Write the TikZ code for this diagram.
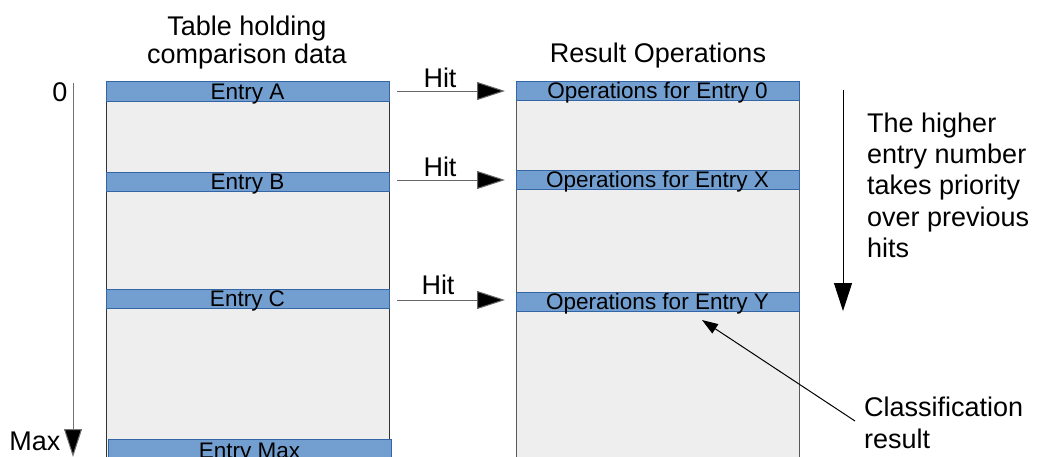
\documentclass[tikz,border=0pt]{standalone}
\usepackage{fontspec}
\setmainfont{Liberation Sans}
\usetikzlibrary{arrows.meta}
\definecolor{barfill}{HTML}{729FCF}
\definecolor{barline}{HTML}{3465A4}
\definecolor{tablefill}{HTML}{EEEEEE}
\tikzset{
  tbl/.style={draw=black!80, fill=tablefill, line width=1pt},
  bar/.style={draw=barline, fill=barfill, line width=1pt, inner sep=0pt, minimum width=283pt,
    text height=17.5pt, text depth=1.5pt, font=\fontsize{22.5}{26}\selectfont},
  lbl/.style={inner sep=0pt, font=\fontsize{27}{31.3}\selectfont},
  hit/.style={-{Triangle[length=28pt,width=18pt,fill=black]}, line width=1pt, draw=black!60},
  bigarrow/.style={-{Triangle[length=28pt,width=18pt]}, line width=1pt},
  smallarrow/.style={-{Triangle[length=16pt,width=11pt]}, line width=1pt},
}
\begin{document}
\begin{tikzpicture}[x=1pt,y=-1pt]
\useasboundingbox (0,0) rectangle (1043,456);
\clip (0,0) rectangle (1043,456);
% tables
\draw[tbl] (106,81) rectangle (389,480);
\draw[tbl, draw=black!65] (516,81) rectangle (799,480);
% left bars
\node[bar, minimum height=20pt] (entryA) at (247.5,91) {Entry A};
\node[bar, minimum height=19pt] (entryB) at (247.5,181.5) {Entry B};
\node[bar, minimum height=19pt] (entryC) at (247.5,298.5) {Entry C};
\node[bar, minimum height=31pt, text height=19.5pt, text depth=11.5pt] (entryMax) at (249.5,454.5) {Entry Max};
% right bars
\node[bar, minimum height=19pt] (op0) at (657.5,90.5) {Operations for Entry 0};
\node[bar, minimum height=19pt] (opX) at (657.5,179.5) {Operations for Entry X};
\node[bar, minimum height=19pt] (opY) at (657.5,301.5) {Operations for Entry Y};
% titles
\node[lbl, align=center, anchor=north, font=\fontsize{27}{28.5}\selectfont] (title1) at (247,15.5) {Table holding\\comparison data};
\node[lbl] (title2) at (658,56) {Result Operations};
% axis
\coordinate (axTop) at (73,83);
\coordinate (axBot) at (73,457);
\draw[hit, draw=black!55] (axTop) -- (axBot);
\node[lbl] (zero) at (60,92) {0};
\node[lbl] (max) at (35,441) {Max};
% hit arrows
\coordinate (hA1) at (397,91);  \coordinate (hA2) at (505,91);
\coordinate (hB1) at (397,180); \coordinate (hB2) at (505,180);
\coordinate (hC1) at (397,300); \coordinate (hC2) at (505,300);
\draw[hit] (hA1) -- (hA2);
\draw[hit] (hB1) -- (hB2);
\draw[hit] (hC1) -- (hC2);
\node[lbl] (hitA) at (440,78) {Hit};
\node[lbl] (hitB) at (440,167) {Hit};
\node[lbl] (hitC) at (438,285) {Hit};
% priority arrow
\coordinate (pTop) at (843,90);
\coordinate (pBot) at (843,311);
\draw[bigarrow] (pTop) -- (pBot);
\node[lbl, anchor=north west, align=left] (prio) at (867,112.5) {The higher\\entry number\\takes priority\\over previous\\hits};
% classification
\node[lbl, anchor=north west, align=left, font=\fontsize{27}{32.5}\selectfont] (cls) at (864,396.5) {Classification\\result};
\coordinate (cTail) at (855,421);
\coordinate (cTip) at (702,320);
\draw[smallarrow] (cTail) -- (cTip);
\end{tikzpicture}
\end{document}
